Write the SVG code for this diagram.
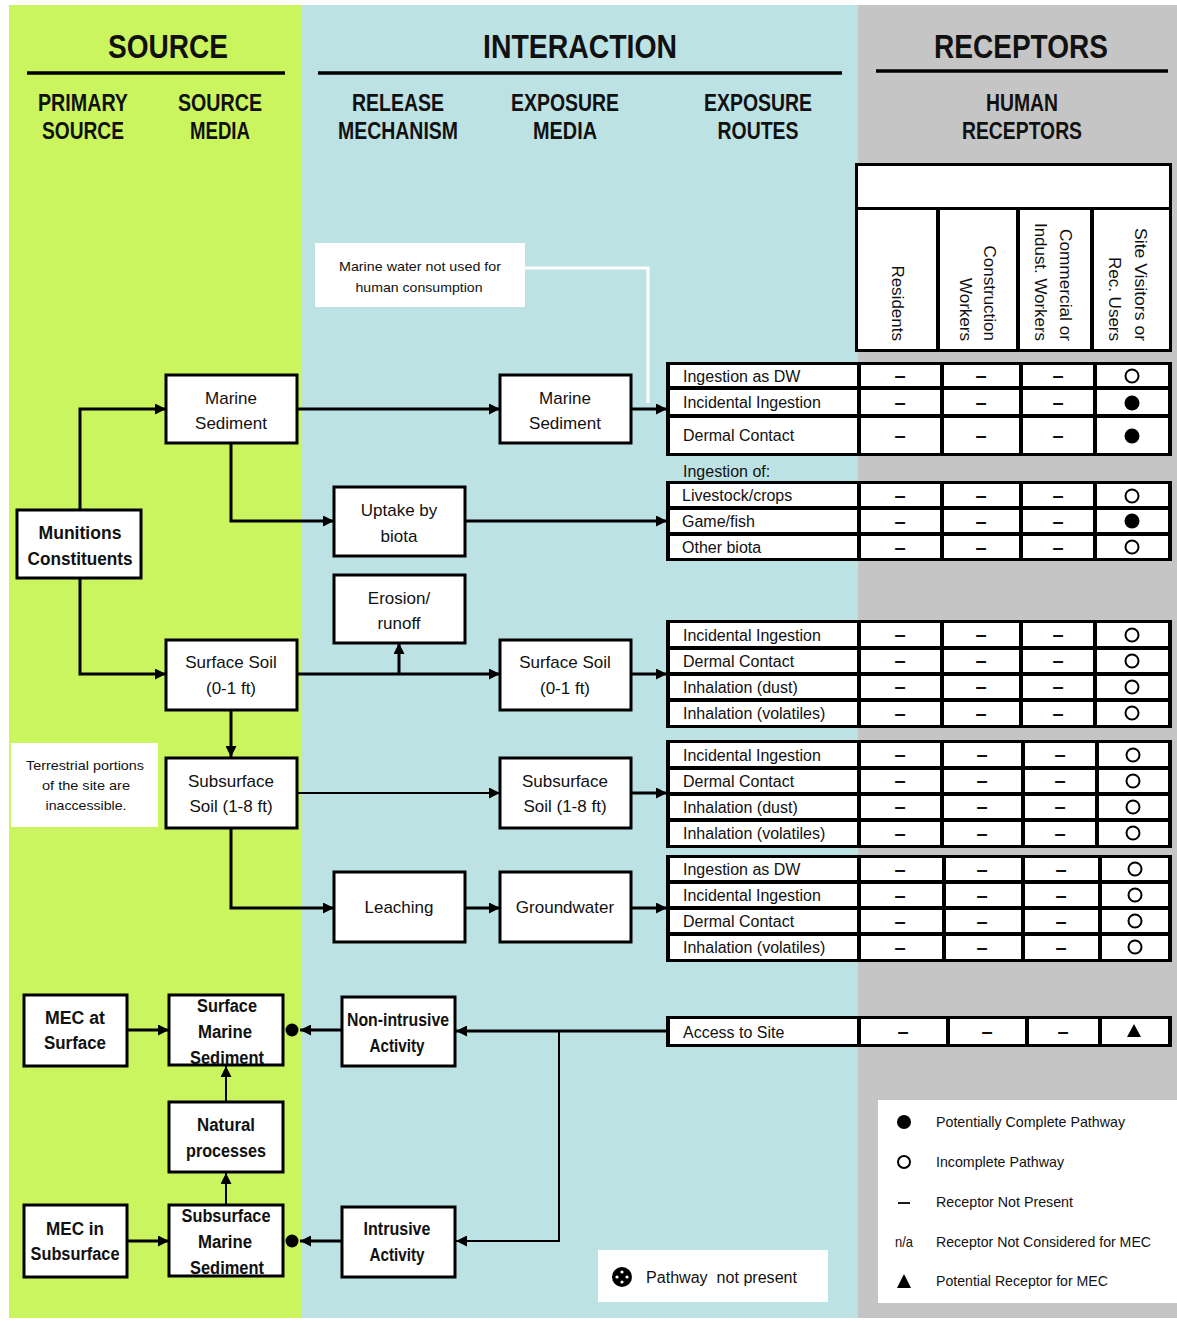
<svg xmlns="http://www.w3.org/2000/svg" width="1177" height="1322" viewBox="0 0 1177 1322">
<style>
.f{font-family:"Liberation Sans",Arial,sans-serif;fill:#111}
.h1{font-size:34px;font-weight:bold;text-anchor:middle}
.h2{font-size:23px;font-weight:bold;text-anchor:middle}
.bt{font-size:17px;text-anchor:middle}
.bb{font-size:18px;font-weight:bold;text-anchor:middle}
.tl{font-size:16px}
.sm{font-size:13.5px;text-anchor:middle}
.lg{font-size:15px}
.dash{font-size:20px;font-weight:bold;text-anchor:middle}
.rot{font-size:17px;text-anchor:end}
.box{fill:#fff;stroke:#000;stroke-width:3}
.c{fill:none;stroke:#000;stroke-width:3}
.c2{fill:none;stroke:#000;stroke-width:2}
.hl{stroke:#000;stroke-width:3.5}
.cell{fill:#fff}
.blk{fill:#000}
</style>
<defs>
<marker id="arr" markerUnits="userSpaceOnUse" markerWidth="12" markerHeight="11" refX="11" refY="5.5" orient="auto">
<path d="M0,0 L11,5.5 L0,11 z" fill="#000"/>
</marker>
</defs>

<g id="background">
<rect x="0" y="0" width="1177" height="1322" fill="#fff"/>
<rect x="9" y="5" width="293" height="1313" fill="#cbf55f"/>
<rect x="302" y="5" width="556" height="1313" fill="#bde2e4"/>
<rect x="858" y="5" width="319" height="1313" fill="#c5c5c5"/>
</g>

<g id="headings">
<text class="f h1" x="168" y="58" textLength="120" lengthAdjust="spacingAndGlyphs">SOURCE</text>
<text class="f h1" x="580" y="58" textLength="194" lengthAdjust="spacingAndGlyphs">INTERACTION</text>
<text class="f h1" x="1021" y="58" textLength="174" lengthAdjust="spacingAndGlyphs">RECEPTORS</text>
<line class="hl" x1="27" y1="73" x2="285" y2="73"/>
<line class="hl" x1="318" y1="73" x2="842" y2="73"/>
<line class="hl" x1="876" y1="71" x2="1168" y2="71"/>
<text class="f h2" x="83" y="111" textLength="90" lengthAdjust="spacingAndGlyphs">PRIMARY</text>
<text class="f h2" x="83" y="139" textLength="82" lengthAdjust="spacingAndGlyphs">SOURCE</text>
<text class="f h2" x="220" y="111" textLength="84" lengthAdjust="spacingAndGlyphs">SOURCE</text>
<text class="f h2" x="220" y="139" textLength="60" lengthAdjust="spacingAndGlyphs">MEDIA</text>
<text class="f h2" x="398" y="111" textLength="92" lengthAdjust="spacingAndGlyphs">RELEASE</text>
<text class="f h2" x="398" y="139" textLength="120" lengthAdjust="spacingAndGlyphs">MECHANISM</text>
<text class="f h2" x="565" y="111" textLength="108" lengthAdjust="spacingAndGlyphs">EXPOSURE</text>
<text class="f h2" x="565" y="139" textLength="64" lengthAdjust="spacingAndGlyphs">MEDIA</text>
<text class="f h2" x="758" y="111" textLength="108" lengthAdjust="spacingAndGlyphs">EXPOSURE</text>
<text class="f h2" x="758" y="139" textLength="81" lengthAdjust="spacingAndGlyphs">ROUTES</text>
<text class="f h2" x="1022" y="111" textLength="72" lengthAdjust="spacingAndGlyphs">HUMAN</text>
<text class="f h2" x="1022" y="139" textLength="120" lengthAdjust="spacingAndGlyphs">RECEPTORS</text>
</g>

<g id="receptor-header">
<rect class="blk" x="855" y="163" width="317" height="189"/>
<rect class="cell" x="858" y="166" width="311" height="41"/>
<rect class="cell" x="858" y="210" width="78" height="139"/>
<rect class="cell" x="940" y="210" width="76" height="139"/>
<rect class="cell" x="1020" y="210" width="70" height="139"/>
<rect class="cell" x="1094" y="210" width="75" height="139"/>
<text class="f rot" transform="translate(892,341) rotate(90)">Residents</text>
<text class="f rot" transform="translate(984,341) rotate(90)">Construction</text>
<text class="f rot" transform="translate(960,341) rotate(90)">Workers</text>
<text class="f rot" transform="translate(1060,341) rotate(90)" textLength="112" lengthAdjust="spacingAndGlyphs">Commercial or</text>
<text class="f rot" transform="translate(1035,341) rotate(90)" textLength="118" lengthAdjust="spacingAndGlyphs">Indust. Workers</text>
<text class="f rot" transform="translate(1135,341) rotate(90)" textLength="113" lengthAdjust="spacingAndGlyphs">Site Visitors or</text>
<text class="f rot" transform="translate(1109,341) rotate(90)">Rec. Users</text>
</g>

<g id="connectors">
<path class="c" d="M80,510 V409 H166" marker-end="url(#arr)"/>
<path class="c" d="M80,578 V674 H166" marker-end="url(#arr)"/>
<path class="c" d="M297,409 H500" marker-end="url(#arr)"/>
<path class="c" d="M231,443 V521 H334" marker-end="url(#arr)"/>
<path class="c" d="M465,521 H667" marker-end="url(#arr)"/>
<path class="c" d="M631,409 H667" marker-end="url(#arr)"/>
<path d="M525,268 H648 V403" fill="none" stroke="#fff" stroke-width="3"/>
<path class="c" d="M297,674 H500" marker-end="url(#arr)"/>
<path class="c" d="M399,674 V643" marker-end="url(#arr)"/>
<path class="c" d="M231,710 V757" marker-end="url(#arr)"/>
<path class="c2" d="M297,793 H500" marker-end="url(#arr)"/>
<path class="c" d="M231,828 V908 H334" marker-end="url(#arr)"/>
<path class="c" d="M465,908 H500" marker-end="url(#arr)"/>
<path class="c" d="M631,674 H667" marker-end="url(#arr)"/>
<path class="c" d="M631,793 H667" marker-end="url(#arr)"/>
<path class="c" d="M631,908 H667" marker-end="url(#arr)"/>
<path class="c" d="M127,1030 H169" marker-end="url(#arr)"/>
<path class="c" d="M127,1241 H169" marker-end="url(#arr)"/>
<path class="c2" d="M226,1205 V1173" marker-end="url(#arr)"/>
<path class="c2" d="M226,1102 V1066" marker-end="url(#arr)"/>
<path class="c" d="M667,1031 H456" marker-end="url(#arr)"/>
<path class="c2" d="M559,1031 V1241 H456" marker-end="url(#arr)"/>
<path class="c" d="M341,1030 H300" marker-end="url(#arr)"/>
<circle cx="292" cy="1030" r="6.5" fill="#000"/>
<path class="c" d="M341,1241 H300" marker-end="url(#arr)"/>
<circle cx="292" cy="1241" r="6.5" fill="#000"/>
</g>

<g id="note-marine-water">
<rect x="315" y="243" width="210" height="64" fill="#fff"/>
<text class="f sm" x="420" y="271" textLength="162" lengthAdjust="spacingAndGlyphs">Marine water not used for</text>
<text class="f sm" x="419" y="292" textLength="127" lengthAdjust="spacingAndGlyphs">human consumption</text>
</g>

<g id="note-terrestrial">
<rect x="11" y="743" width="147" height="84" fill="#fff"/>
<text class="f sm" x="85" y="770" textLength="118" lengthAdjust="spacingAndGlyphs">Terrestrial portions</text>
<text class="f sm" x="86" y="790" textLength="88" lengthAdjust="spacingAndGlyphs">of the site are</text>
<text class="f sm" x="86" y="810" textLength="81" lengthAdjust="spacingAndGlyphs">inaccessible.</text>
</g>

<g id="munitions-constituents">
<rect class="box" x="17" y="510" width="124" height="68"/>
<text class="f bb" x="80" y="539" textLength="83" lengthAdjust="spacingAndGlyphs">Munitions</text>
<text class="f bb" x="80" y="565" textLength="105" lengthAdjust="spacingAndGlyphs">Constituents</text>
</g>

<g id="marine-sediment-source">
<rect class="box" x="166" y="375" width="131" height="68"/>
<text class="f bt" x="231" y="404">Marine</text>
<text class="f bt" x="231" y="429">Sediment</text>
</g>

<g id="surface-soil-source">
<rect class="box" x="166" y="640" width="131" height="70"/>
<text class="f bt" x="231" y="668">Surface Soil</text>
<text class="f bt" x="231" y="694">(0-1 ft)</text>
</g>

<g id="subsurface-soil-source">
<rect class="box" x="166" y="758" width="131" height="70"/>
<text class="f bt" x="231" y="787">Subsurface</text>
<text class="f bt" x="231" y="812">Soil (1-8 ft)</text>
</g>

<g id="uptake-by-biota">
<rect class="box" x="334" y="487" width="131" height="69"/>
<text class="f bt" x="399" y="516">Uptake by</text>
<text class="f bt" x="399" y="542">biota</text>
</g>

<g id="erosion-runoff">
<rect class="box" x="334" y="575" width="131" height="68"/>
<text class="f bt" x="399" y="604">Erosion/</text>
<text class="f bt" x="399" y="629">runoff</text>
</g>

<g id="leaching">
<rect class="box" x="334" y="872" width="131" height="70"/>
<text class="f bt" x="399" y="913">Leaching</text>
</g>

<g id="marine-sediment-exposure">
<rect class="box" x="500" y="375" width="131" height="68"/>
<text class="f bt" x="565" y="404">Marine</text>
<text class="f bt" x="565" y="429">Sediment</text>
</g>

<g id="surface-soil-exposure">
<rect class="box" x="500" y="640" width="131" height="70"/>
<text class="f bt" x="565" y="668">Surface Soil</text>
<text class="f bt" x="565" y="694">(0-1 ft)</text>
</g>

<g id="subsurface-soil-exposure">
<rect class="box" x="500" y="758" width="131" height="70"/>
<text class="f bt" x="565" y="787">Subsurface</text>
<text class="f bt" x="565" y="812">Soil (1-8 ft)</text>
</g>

<g id="groundwater">
<rect class="box" x="500" y="872" width="131" height="70"/>
<text class="f bt" x="565" y="913">Groundwater</text>
</g>

<g id="mec-at-surface">
<rect class="box" x="24" y="995" width="103" height="71"/>
<text class="f bb" x="75" y="1024" textLength="60" lengthAdjust="spacingAndGlyphs">MEC at</text>
<text class="f bb" x="75" y="1049" textLength="62" lengthAdjust="spacingAndGlyphs">Surface</text>
</g>

<g id="surface-marine-sediment">
<rect class="box" x="169" y="995" width="114" height="70"/>
<text class="f bb" x="227" y="1012" textLength="60" lengthAdjust="spacingAndGlyphs">Surface</text>
<text class="f bb" x="225" y="1038" textLength="54" lengthAdjust="spacingAndGlyphs">Marine</text>
<text class="f bb" x="227" y="1064" textLength="74" lengthAdjust="spacingAndGlyphs">Sediment</text>
</g>

<g id="non-intrusive-activity">
<rect class="box" x="342" y="997" width="113" height="69"/>
<text class="f bb" x="398" y="1026" textLength="102" lengthAdjust="spacingAndGlyphs">Non-intrusive</text>
<text class="f bb" x="397" y="1052" textLength="55" lengthAdjust="spacingAndGlyphs">Activity</text>
</g>

<g id="natural-processes">
<rect class="box" x="169" y="1102" width="114" height="70"/>
<text class="f bb" x="226" y="1131" textLength="58" lengthAdjust="spacingAndGlyphs">Natural</text>
<text class="f bb" x="226" y="1157" textLength="80" lengthAdjust="spacingAndGlyphs">processes</text>
</g>

<g id="mec-in-subsurface">
<rect class="box" x="24" y="1205" width="103" height="72"/>
<text class="f bb" x="75" y="1235" textLength="58" lengthAdjust="spacingAndGlyphs">MEC in</text>
<text class="f bb" x="75" y="1260" textLength="89" lengthAdjust="spacingAndGlyphs">Subsurface</text>
</g>

<g id="subsurface-marine-sediment">
<rect class="box" x="169" y="1205" width="114" height="71"/>
<text class="f bb" x="226" y="1222" textLength="89" lengthAdjust="spacingAndGlyphs">Subsurface</text>
<text class="f bb" x="225" y="1248" textLength="54" lengthAdjust="spacingAndGlyphs">Marine</text>
<text class="f bb" x="227" y="1274" textLength="74" lengthAdjust="spacingAndGlyphs">Sediment</text>
</g>

<g id="intrusive-activity">
<rect class="box" x="342" y="1207" width="113" height="70"/>
<text class="f bb" x="397" y="1235" textLength="67" lengthAdjust="spacingAndGlyphs">Intrusive</text>
<text class="f bb" x="397" y="1261" textLength="55" lengthAdjust="spacingAndGlyphs">Activity</text>
</g>

<g id="table-marine-sediment">
<rect class="blk" x="666" y="362" width="506" height="94"/>
<rect class="cell" x="670" y="365" width="187" height="21"/><rect class="cell" x="861" y="365" width="79" height="21"/><rect class="cell" x="944" y="365" width="75" height="21"/><rect class="cell" x="1023" y="365" width="70" height="21"/><rect class="cell" x="1097" y="365" width="71" height="21"/>
<rect class="cell" x="670" y="390" width="187" height="24"/><rect class="cell" x="861" y="390" width="79" height="24"/><rect class="cell" x="944" y="390" width="75" height="24"/><rect class="cell" x="1023" y="390" width="70" height="24"/><rect class="cell" x="1097" y="390" width="71" height="24"/>
<rect class="cell" x="670" y="418" width="187" height="35"/><rect class="cell" x="861" y="418" width="79" height="35"/><rect class="cell" x="944" y="418" width="75" height="35"/><rect class="cell" x="1023" y="418" width="70" height="35"/><rect class="cell" x="1097" y="418" width="71" height="35"/>
<text class="f tl" x="683" y="382">Ingestion as DW</text>
<text class="f tl" x="683" y="408">Incidental Ingestion</text>
<text class="f tl" x="683" y="441">Dermal Contact</text>
<text class="f dash" x="900" y="382">–</text><text class="f dash" x="981" y="382">–</text><text class="f dash" x="1058" y="382">–</text><circle cx="1132" cy="376" r="6.5" fill="#fff" stroke="#000" stroke-width="2"/>
<text class="f dash" x="900" y="409">–</text><text class="f dash" x="981" y="409">–</text><text class="f dash" x="1058" y="409">–</text><circle cx="1132" cy="403" r="7.5" fill="#000"/>
<text class="f dash" x="900" y="442">–</text><text class="f dash" x="981" y="442">–</text><text class="f dash" x="1058" y="442">–</text><circle cx="1132" cy="436" r="7.5" fill="#000"/>
</g>

<g id="table-biota">
<text class="f tl" x="683" y="477">Ingestion of:</text>
<rect class="blk" x="666" y="481" width="506" height="80"/>
<rect class="cell" x="670" y="484" width="187" height="22"/><rect class="cell" x="861" y="484" width="79" height="22"/><rect class="cell" x="944" y="484" width="75" height="22"/><rect class="cell" x="1023" y="484" width="70" height="22"/><rect class="cell" x="1097" y="484" width="71" height="22"/>
<rect class="cell" x="670" y="510" width="187" height="22"/><rect class="cell" x="861" y="510" width="79" height="22"/><rect class="cell" x="944" y="510" width="75" height="22"/><rect class="cell" x="1023" y="510" width="70" height="22"/><rect class="cell" x="1097" y="510" width="71" height="22"/>
<rect class="cell" x="670" y="536" width="187" height="22"/><rect class="cell" x="861" y="536" width="79" height="22"/><rect class="cell" x="944" y="536" width="75" height="22"/><rect class="cell" x="1023" y="536" width="70" height="22"/><rect class="cell" x="1097" y="536" width="71" height="22"/>
<text class="f tl" x="682" y="501">Livestock/crops</text>
<text class="f tl" x="682" y="527">Game/fish</text>
<text class="f tl" x="682" y="553">Other biota</text>
<text class="f dash" x="900" y="502">–</text><text class="f dash" x="981" y="502">–</text><text class="f dash" x="1058" y="502">–</text><circle cx="1132" cy="496" r="6.5" fill="#fff" stroke="#000" stroke-width="2"/>
<text class="f dash" x="900" y="528">–</text><text class="f dash" x="981" y="528">–</text><text class="f dash" x="1058" y="528">–</text><circle cx="1132" cy="521" r="7.5" fill="#000"/>
<text class="f dash" x="900" y="554">–</text><text class="f dash" x="981" y="554">–</text><text class="f dash" x="1058" y="554">–</text><circle cx="1132" cy="547" r="6.5" fill="#fff" stroke="#000" stroke-width="2"/>
</g>

<g id="table-surface-soil">
<rect class="blk" x="666" y="620" width="506" height="108"/>
<rect class="cell" x="670" y="623" width="187" height="23"/><rect class="cell" x="861" y="623" width="79" height="23"/><rect class="cell" x="944" y="623" width="75" height="23"/><rect class="cell" x="1023" y="623" width="70" height="23"/><rect class="cell" x="1097" y="623" width="71" height="23"/>
<rect class="cell" x="670" y="650" width="187" height="22"/><rect class="cell" x="861" y="650" width="79" height="22"/><rect class="cell" x="944" y="650" width="75" height="22"/><rect class="cell" x="1023" y="650" width="70" height="22"/><rect class="cell" x="1097" y="650" width="71" height="22"/>
<rect class="cell" x="670" y="676" width="187" height="22"/><rect class="cell" x="861" y="676" width="79" height="22"/><rect class="cell" x="944" y="676" width="75" height="22"/><rect class="cell" x="1023" y="676" width="70" height="22"/><rect class="cell" x="1097" y="676" width="71" height="22"/>
<rect class="cell" x="670" y="702" width="187" height="23"/><rect class="cell" x="861" y="702" width="79" height="23"/><rect class="cell" x="944" y="702" width="75" height="23"/><rect class="cell" x="1023" y="702" width="70" height="23"/><rect class="cell" x="1097" y="702" width="71" height="23"/>
<text class="f tl" x="683" y="641">Incidental Ingestion</text>
<text class="f tl" x="683" y="667">Dermal Contact</text>
<text class="f tl" x="683" y="693">Inhalation (dust)</text>
<text class="f tl" x="683" y="719">Inhalation (volatiles)</text>
<text class="f dash" x="900" y="641">–</text><text class="f dash" x="981" y="641">–</text><text class="f dash" x="1058" y="641">–</text><circle cx="1132" cy="635" r="6.5" fill="#fff" stroke="#000" stroke-width="2"/>
<text class="f dash" x="900" y="667">–</text><text class="f dash" x="981" y="667">–</text><text class="f dash" x="1058" y="667">–</text><circle cx="1132" cy="661" r="6.5" fill="#fff" stroke="#000" stroke-width="2"/>
<text class="f dash" x="900" y="693">–</text><text class="f dash" x="981" y="693">–</text><text class="f dash" x="1058" y="693">–</text><circle cx="1132" cy="687" r="6.5" fill="#fff" stroke="#000" stroke-width="2"/>
<text class="f dash" x="900" y="720">–</text><text class="f dash" x="981" y="720">–</text><text class="f dash" x="1058" y="720">–</text><circle cx="1132" cy="713" r="6.5" fill="#fff" stroke="#000" stroke-width="2"/>
</g>

<g id="table-subsurface-soil">
<rect class="blk" x="666" y="740" width="506" height="108"/>
<rect class="cell" x="670" y="743" width="187" height="23"/><rect class="cell" x="861" y="743" width="79" height="23"/><rect class="cell" x="944" y="743" width="77" height="23"/><rect class="cell" x="1025" y="743" width="70" height="23"/><rect class="cell" x="1099" y="743" width="69" height="23"/>
<rect class="cell" x="670" y="770" width="187" height="22"/><rect class="cell" x="861" y="770" width="79" height="22"/><rect class="cell" x="944" y="770" width="77" height="22"/><rect class="cell" x="1025" y="770" width="70" height="22"/><rect class="cell" x="1099" y="770" width="69" height="22"/>
<rect class="cell" x="670" y="796" width="187" height="22"/><rect class="cell" x="861" y="796" width="79" height="22"/><rect class="cell" x="944" y="796" width="77" height="22"/><rect class="cell" x="1025" y="796" width="70" height="22"/><rect class="cell" x="1099" y="796" width="69" height="22"/>
<rect class="cell" x="670" y="822" width="187" height="23"/><rect class="cell" x="861" y="822" width="79" height="23"/><rect class="cell" x="944" y="822" width="77" height="23"/><rect class="cell" x="1025" y="822" width="70" height="23"/><rect class="cell" x="1099" y="822" width="69" height="23"/>
<text class="f tl" x="683" y="761">Incidental Ingestion</text>
<text class="f tl" x="683" y="787">Dermal Contact</text>
<text class="f tl" x="683" y="813">Inhalation (dust)</text>
<text class="f tl" x="683" y="839">Inhalation (volatiles)</text>
<text class="f dash" x="900" y="761">–</text><text class="f dash" x="982" y="761">–</text><text class="f dash" x="1060" y="761">–</text><circle cx="1133" cy="755" r="6.5" fill="#fff" stroke="#000" stroke-width="2"/>
<text class="f dash" x="900" y="787">–</text><text class="f dash" x="982" y="787">–</text><text class="f dash" x="1060" y="787">–</text><circle cx="1133" cy="781" r="6.5" fill="#fff" stroke="#000" stroke-width="2"/>
<text class="f dash" x="900" y="813">–</text><text class="f dash" x="982" y="813">–</text><text class="f dash" x="1060" y="813">–</text><circle cx="1133" cy="807" r="6.5" fill="#fff" stroke="#000" stroke-width="2"/>
<text class="f dash" x="900" y="840">–</text><text class="f dash" x="982" y="840">–</text><text class="f dash" x="1060" y="840">–</text><circle cx="1133" cy="833" r="6.5" fill="#fff" stroke="#000" stroke-width="2"/>
</g>

<g id="table-groundwater">
<rect class="blk" x="666" y="855" width="506" height="107"/>
<rect class="cell" x="670" y="858" width="187" height="22"/><rect class="cell" x="861" y="858" width="81" height="22"/><rect class="cell" x="946" y="858" width="75" height="22"/><rect class="cell" x="1025" y="858" width="73" height="22"/><rect class="cell" x="1102" y="858" width="66" height="22"/>
<rect class="cell" x="670" y="884" width="187" height="22"/><rect class="cell" x="861" y="884" width="81" height="22"/><rect class="cell" x="946" y="884" width="75" height="22"/><rect class="cell" x="1025" y="884" width="73" height="22"/><rect class="cell" x="1102" y="884" width="66" height="22"/>
<rect class="cell" x="670" y="910" width="187" height="22"/><rect class="cell" x="861" y="910" width="81" height="22"/><rect class="cell" x="946" y="910" width="75" height="22"/><rect class="cell" x="1025" y="910" width="73" height="22"/><rect class="cell" x="1102" y="910" width="66" height="22"/>
<rect class="cell" x="670" y="936" width="187" height="23"/><rect class="cell" x="861" y="936" width="81" height="23"/><rect class="cell" x="946" y="936" width="75" height="23"/><rect class="cell" x="1025" y="936" width="73" height="23"/><rect class="cell" x="1102" y="936" width="66" height="23"/>
<text class="f tl" x="683" y="875">Ingestion as DW</text>
<text class="f tl" x="683" y="901">Incidental Ingestion</text>
<text class="f tl" x="683" y="927">Dermal Contact</text>
<text class="f tl" x="683" y="953">Inhalation (volatiles)</text>
<text class="f dash" x="900" y="876">–</text><text class="f dash" x="982" y="876">–</text><text class="f dash" x="1061" y="876">–</text><circle cx="1135" cy="869" r="6.5" fill="#fff" stroke="#000" stroke-width="2"/>
<text class="f dash" x="900" y="902">–</text><text class="f dash" x="982" y="902">–</text><text class="f dash" x="1061" y="902">–</text><circle cx="1135" cy="895" r="6.5" fill="#fff" stroke="#000" stroke-width="2"/>
<text class="f dash" x="900" y="928">–</text><text class="f dash" x="982" y="928">–</text><text class="f dash" x="1061" y="928">–</text><circle cx="1135" cy="921" r="6.5" fill="#fff" stroke="#000" stroke-width="2"/>
<text class="f dash" x="900" y="954">–</text><text class="f dash" x="982" y="954">–</text><text class="f dash" x="1061" y="954">–</text><circle cx="1135" cy="947" r="6.5" fill="#fff" stroke="#000" stroke-width="2"/>
</g>

<g id="table-access">
<rect class="blk" x="666" y="1016" width="506" height="31"/>
<rect class="cell" x="670" y="1019" width="187" height="25"/><rect class="cell" x="861" y="1019" width="85" height="25"/><rect class="cell" x="950" y="1019" width="75" height="25"/><rect class="cell" x="1029" y="1019" width="69" height="25"/><rect class="cell" x="1102" y="1019" width="66" height="25"/>
<text class="f tl" x="683" y="1038">Access to Site</text>
<text class="f dash" x="903" y="1038">–</text><text class="f dash" x="987" y="1038">–</text><text class="f dash" x="1063" y="1038">–</text>
<path d="M1134,1024 L1141,1037 L1127,1037 z" fill="#000"/>
</g>

<g id="legend">
<rect x="878" y="1100" width="299" height="203" fill="#fff"/>
<circle cx="904" cy="1122" r="7" fill="#000"/>
<text class="f lg" x="936" y="1127" textLength="189" lengthAdjust="spacingAndGlyphs">Potentially Complete Pathway</text>
<circle cx="904" cy="1162" r="6" fill="#fff" stroke="#000" stroke-width="2"/>
<text class="f lg" x="936" y="1167" textLength="128" lengthAdjust="spacingAndGlyphs">Incomplete Pathway</text>
<line x1="898" y1="1203" x2="910" y2="1203" stroke="#000" stroke-width="1.8"/>
<text class="f lg" x="936" y="1207" textLength="137" lengthAdjust="spacingAndGlyphs">Receptor Not Present</text>
<text class="f lg" x="895" y="1247" textLength="18" lengthAdjust="spacingAndGlyphs">n/a</text>
<text class="f lg" x="936" y="1247" textLength="215" lengthAdjust="spacingAndGlyphs">Receptor Not Considered for MEC</text>
<path d="M904,1274 L911,1288 L897,1288 z" fill="#000"/>
<text class="f lg" x="936" y="1286" textLength="172" lengthAdjust="spacingAndGlyphs">Potential Receptor for MEC</text>
</g>

<g id="legend-pathway-not-present">
<rect x="598" y="1250" width="230" height="52" fill="#fff"/>
<circle cx="622" cy="1277" r="10" fill="#000"/>
<circle cx="622" cy="1272" r="1.6" fill="#fff"/>
<circle cx="622" cy="1282" r="1.6" fill="#fff"/>
<circle cx="617" cy="1277" r="1.6" fill="#fff"/>
<circle cx="627" cy="1277" r="1.6" fill="#fff"/>
<text class="f tl" x="646" y="1283" textLength="151" lengthAdjust="spacingAndGlyphs" style="white-space:pre">Pathway  not present</text>
</g>
</svg>
